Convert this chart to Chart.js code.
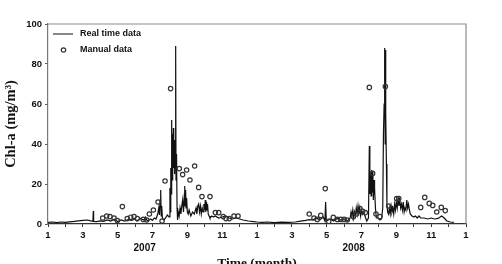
<!DOCTYPE html>
<html>
<head>
<meta charset="utf-8">
<script src="https://cdn.jsdelivr.net/npm/chart.js@4.4.1/dist/chart.umd.min.js"></script>
<style>
  html, body { margin: 0; padding: 0; background: #fff; }
  #wrap { width: 502px; height: 264px; }
</style>
</head>
<body>
<div id="wrap"><canvas id="myChart" width="502" height="264"></canvas></div>
<script>
// months counted from Jan 2007 (0) to Jan 2009 (24)
var rtMonth = [
  0.00, 0.25, 0.50, 0.75, 1.00, 1.25, 1.50, 1.75, 2.00, 2.25, 2.45, 2.58, 2.60, 2.62, 2.80,
  3.00, 3.20, 3.40, 3.60, 3.80, 4.00, 4.20, 4.40, 4.60, 4.80, 5.00, 5.10, 5.30, 5.50, 5.60,
  5.70, 5.90, 6.00, 6.10, 6.20, 6.30, 6.36, 6.40, 6.44, 6.47, 6.50, 6.53, 6.57, 6.65, 6.75,
  6.85, 6.95, 7.00, 7.02, 7.05, 7.07, 7.10, 7.12, 7.15, 7.17, 7.20, 7.22, 7.25, 7.27, 7.30,
  7.33, 7.35, 7.38, 7.41, 7.44, 7.48, 7.53, 7.58, 7.63, 7.68, 7.73, 7.78, 7.83, 7.85, 7.87,
  7.90, 7.93, 7.96, 8.00, 8.05, 8.10, 8.20, 8.30, 8.40, 8.50, 8.55, 8.60, 8.65, 8.70, 8.75,
  8.80, 8.85, 8.90, 8.95, 9.00, 9.03, 9.06, 9.10, 9.13, 9.16, 9.20, 9.25, 9.30, 9.40, 9.50,
  9.60, 9.80, 10.00, 10.20, 10.40, 10.60, 10.80, 11.00, 11.20, 11.50, 11.80, 12.00,
  12.30, 12.60, 13.00, 13.40, 13.80, 14.20, 14.50, 14.80, 15.00, 15.20, 15.40, 15.60, 15.80, 15.90, 15.94,
  15.98, 16.20, 16.40, 16.60, 16.80, 17.00, 17.20, 17.35, 17.40, 17.45, 17.50, 17.55, 17.60, 17.65, 17.70,
  17.75, 17.80, 17.85, 17.90, 17.95, 18.00, 18.05, 18.10, 18.20, 18.30, 18.40, 18.45, 18.48, 18.52, 18.55,
  18.58, 18.62, 18.65, 18.68, 18.72, 18.75, 18.80, 18.85, 18.95, 19.05, 19.15, 19.22, 19.26, 19.30, 19.33,
  19.36, 19.38, 19.40, 19.43, 19.46, 19.50, 19.55, 19.60, 19.65, 19.70, 19.75, 19.80, 19.85, 19.90, 19.95,
  20.00, 20.05, 20.10, 20.15, 20.20, 20.25, 20.30, 20.35, 20.40, 20.45, 20.50, 20.55, 20.60, 20.65, 20.70,
  20.75, 20.80, 20.90, 21.00, 21.10, 21.20, 21.30, 21.40, 21.60, 21.80, 22.00, 22.20, 22.40, 22.60, 22.75,
  22.90, 23.10, 23.30
];
var rtChl = [
  0.8, 1.0, 0.7, 1.0, 0.8, 1.1, 1.3, 1.6, 1.8, 2.0, 1.6, 1.4, 6.5, 1.3, 1.2,
  1.6, 1.3, 2.0, 1.5, 2.4, 1.2, 2.0, 1.5, 2.2, 1.8, 2.5, 1.5, 2.8, 2.0, 3.5,
  1.5, 2.5, 1.8, 3.0, 2.5, 5.0, 8.0, 4.5, 12, 17, 4, 9, 3, 2, 3,
  4.5, 3.5, 18, 6, 28, 15, 52, 22, 45, 30, 48, 28, 42, 25, 38,
  89, 22, 35, 8, 2, 6, 4, 8, 5, 9, 12, 6, 15, 19, 9,
  17, 8, 13, 6, 5, 7, 4, 6, 5, 8, 5, 9, 10, 6, 9,
  5, 8, 6, 10, 7, 12, 6, 11, 7, 10, 5, 4, 3, 4, 3.5,
  4, 3, 3.5, 4, 3, 2.5, 3, 2.5, 2, 1.5, 1.2, 1.0,
  0.8, 1.0, 0.7, 0.9, 0.8, 1.0, 1.4, 1.8, 2.2, 2.0, 3.0, 2.0, 3.5, 1.5, 11,
  1.5, 2.5, 1.5, 2.8, 2.0, 2.5, 1.5, 3, 6, 4, 7, 3, 6, 4, 8,
  5, 9, 5, 8, 4, 7, 5, 6, 4, 1.5, 3, 39, 15, 25, 14,
  27, 16, 26, 12, 22, 18, 8, 3, 3, 2, 2.5, 8, 45, 60, 88,
  40, 87, 55, 30, 10, 6, 5, 8, 5, 9, 6, 8, 5, 10, 7,
  11, 8, 13, 9, 12, 8, 10, 7, 11, 6, 8, 7, 12, 8, 10,
  7, 5, 4, 3.5, 4, 3, 4, 3, 3, 2.5, 3, 2.5, 2.8, 4, 3,
  1.5, 1.0, 0.8
];
var manMonth = [
  3.14, 3.37, 3.56, 3.79, 3.98, 4.27, 4.55, 4.75, 4.94, 5.13, 5.47, 5.67, 5.82, 6.05, 6.32,
  6.55, 6.72, 7.04, 7.54, 7.73, 7.96, 8.15, 8.42, 8.65, 8.84, 9.30, 9.61, 9.80, 10.06, 10.22,
  10.41, 10.68, 10.91,
  15.00, 15.27, 15.46, 15.66, 15.92, 16.12, 16.38, 16.61, 16.81, 17.00, 17.18, 17.53, 17.72, 17.91, 18.07,
  18.22, 18.45, 18.64, 18.83, 19.06, 19.37, 19.56, 20.02, 20.14, 21.40, 21.63, 21.89, 22.09, 22.32, 22.58, 22.81
];
var manChl = [
  3, 4, 3.7, 3, 1.7, 8.7, 2.7, 3.4, 3.7, 2.7, 2.3, 2, 5, 7, 11,
  1.5, 21.5, 67.7, 27.7, 24.7, 27, 22, 29, 18.3, 13.7, 13.7, 5.7, 5.7, 3.7, 2.7,
  2.7, 4, 4,
  5, 3, 2.3, 4.3, 17.7, 1.3, 3.3, 2.3, 2.3, 2.3, 2, 3.7, 5, 7.7, 6.3,
  5.7, 68.3, 25.3, 5, 3.7, 68.7, 9, 12.7, 12.7, 8.3, 13.3, 10.3, 9.3, 6, 8.3, 6.7
];
var monthTickLabels = ['1','','3','','5','','7','','9','','11','',
                       '1','','3','','5','','7','','9','','11','','1'];
var yearLabels = ['2007', '2008'];
var yTicks = [0, 20, 40, 60, 80, 100];

var sans = '"Liberation Sans", Arial, sans-serif';
var serif = '"Liberation Serif", "Times New Roman", serif';

var extras = {
  id: 'extras',
  afterDraw: function(chart) {
    var c = chart.ctx, a = chart.chartArea, xs = chart.scales.x;
    c.save();
    // frame top / right
    c.strokeStyle = '#8c8c8c';
    c.lineWidth = 1.2;
    c.beginPath();
    c.moveTo(a.left, a.top); c.lineTo(a.right, a.top); c.lineTo(a.right, a.bottom);
    c.stroke();
    // year labels
    c.fillStyle = '#111';
    c.font = 'bold 10px ' + sans;
    c.textAlign = 'center';
    c.textBaseline = 'middle';
    for (let i = 0; i < yearLabels.length; i++) {
      c.fillText(yearLabels[i], xs.getPixelForValue(i*12 + 5.55), 248);
    }
    // x title (cut at the bottom edge like the original)
    c.font = 'bold 13.5px ' + serif;
    c.textBaseline = 'alphabetic';
    c.fillText('Time (month)', (a.left + a.right)/2, 267);
    // legend
    c.strokeStyle = '#111';
    c.lineWidth = 1;
    c.beginPath(); c.moveTo(53, 34); c.lineTo(73, 34); c.stroke();
    c.beginPath(); c.arc(63.5, 50, 2.2, 0, Math.PI*2); c.lineWidth = 1.2; c.strokeStyle = '#333'; c.stroke();
    c.font = 'bold 9px ' + sans;
    c.textAlign = 'left';
    c.textBaseline = 'middle';
    c.fillText('Real time data', 80, 34);
    c.fillText('Manual data', 80, 50);
    c.restore();
  }
};

var ctx = document.getElementById('myChart');
var chart = new Chart(ctx, {
  type: 'line',
  data: {
    datasets: [{
      label: 'Real time data',
      data: rtMonth.map((m, i) => ({x: m, y: rtChl[i]})),
      borderColor: '#111',
      borderWidth: 1.2,
      pointRadius: 0,
      tension: 0,
      order: 2
    }, {
      label: 'Manual data',
      type: 'scatter',
      data: manMonth.map((m, i) => ({x: m, y: manChl[i]})),
      pointStyle: 'circle',
      pointRadius: 2.2,
      pointBorderWidth: 1.2,
      borderColor: '#333',
      backgroundColor: 'rgba(255,255,255,0)',
      showLine: false,
      order: 1
    }]
  },
  options: {
    responsive: false,
    animation: false,
    layout: { padding: { top: 24, right: 36, left: 0, bottom: 0 } },
    plugins: { legend: { display: false }, tooltip: { enabled: false } },
    scales: {
      x: {
        type: 'linear',
        min: 0, max: 24,
        afterBuildTicks: function(s) { s.ticks = monthTickLabels.map((l, i) => ({value: i})); },
        afterFit: function(s) { s.height = 40; },
        grid: { display: true, drawOnChartArea: false, tickLength: 3, color: '#333' },
        border: { color: '#333', width: 1.2 },
        ticks: {
          autoSkip: false, maxRotation: 0, padding: 3, color: '#111',
          font: { family: sans, size: 9.5, weight: 'bold' },
          callback: function(v) { return monthTickLabels[Math.round(v)]; }
        }
      },
      y: {
        min: 0, max: 100,
        afterBuildTicks: function(s) { s.ticks = yTicks.map(v => ({value: v})); },
        afterFit: function(s) { s.width = 48; },
        grid: { display: true, drawOnChartArea: false, tickLength: 3, color: '#555' },
        border: { color: '#777', width: 1.2 },
        ticks: {
          padding: 3, color: '#111',
          font: { family: sans, size: 9.5, weight: 'bold' }
        },
        title: {
          display: true, text: 'Chl-a (mg/m³)', color: '#111',
          font: { family: serif, size: 14.5, weight: 'bold' },
          padding: { top: 3, bottom: 0 }
        }
      }
    }
  },
  plugins: [extras]
});
</script>
</body>
</html>
